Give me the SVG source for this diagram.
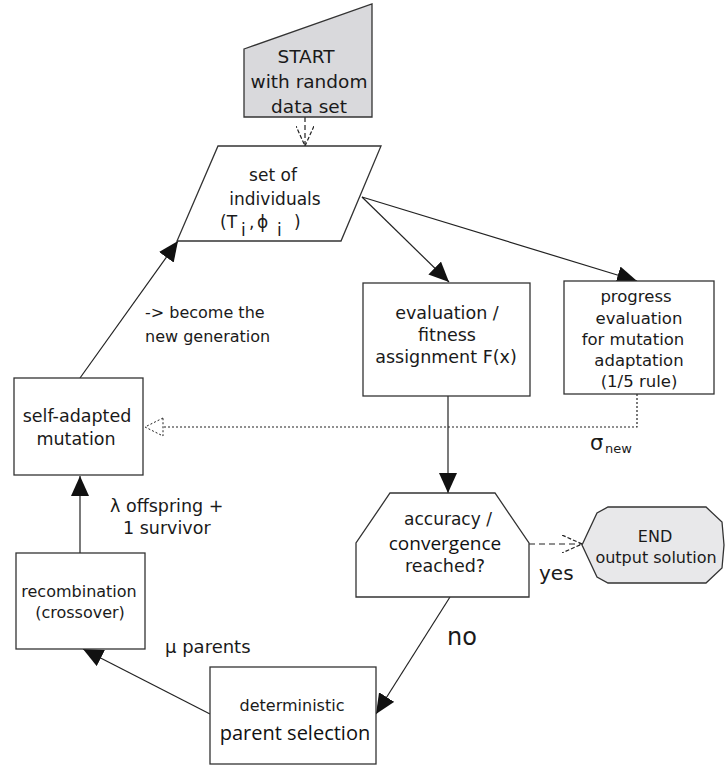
<svg xmlns="http://www.w3.org/2000/svg" width="726" height="765" viewBox="0 0 726 765">
<style>
.box{fill:#fff;stroke:#333;stroke-width:1.3}
.t{font-family:"DejaVu Sans",sans-serif;fill:#1a1a1a;text-anchor:middle}
.l{font-family:"DejaVu Sans",sans-serif;fill:#1a1a1a}
.o{font-family:"Open Sans","Liberation Sans",sans-serif;fill:#111;text-anchor:middle}
.c{fill:none;stroke:#222;stroke-width:1.2}
</style>
<defs>
<marker id="fa" viewBox="0 0 20 18" refX="20" refY="9" markerWidth="20" markerHeight="18" markerUnits="userSpaceOnUse" orient="auto">
<path d="M0,0 L20,9 L0,18 z" fill="#111"/>
</marker>
<marker id="oa" viewBox="0 0 20 18" refX="20" refY="9" markerWidth="20" markerHeight="18" markerUnits="userSpaceOnUse" orient="auto">
<path d="M0,0 L20,9 L0,18" fill="none" stroke="#222" stroke-width="1.2" stroke-dasharray="4,2"/>
</marker>
</defs>
<g id="connectors">
<line class="c" x1="305" y1="117" x2="305" y2="146" stroke-dasharray="5,3" marker-end="url(#oa)"/>
<line class="c" x1="362" y1="197" x2="449" y2="282" marker-end="url(#fa)"/>
<line class="c" x1="362" y1="197" x2="637" y2="281" marker-end="url(#fa)"/>
<line class="c" x1="448" y1="396" x2="448" y2="493" marker-end="url(#fa)"/>
<line class="c" x1="529" y1="544" x2="582" y2="544" stroke-dasharray="6,4" marker-end="url(#oa)"/>
<line class="c" x1="450" y1="597" x2="376" y2="714" marker-end="url(#fa)"/>
<line class="c" x1="210" y1="714" x2="83" y2="649" marker-end="url(#fa)"/>
<line class="c" x1="80" y1="553" x2="80" y2="476" marker-end="url(#fa)"/>
<line class="c" x1="80" y1="378" x2="178" y2="241" marker-end="url(#fa)"/>
<polyline class="c" points="637,394 637,427 163,427" stroke-dasharray="2,2"/>
<path d="M163,418 L145,427 L163,436 z" fill="#fff" stroke="#222" stroke-width="1" stroke-dasharray="2,2"/>
</g>
<g id="start">
<path d="M244,49 L372,4 L372,117 L244,117 z" fill="#d9d9dc" stroke="#333" stroke-width="1.3"/>
<text class="t" x="306" y="63" font-size="18.5">START</text>
<text class="t" x="309" y="88" font-size="18.5">with random</text>
<text class="t" x="309" y="113" font-size="18.5">data set</text>
</g>
<g id="individuals">
<path d="M218,146 L381,146 L341,241 L177,241 z" class="box"/>
<text class="t" x="273" y="181" font-size="17">set of</text>
<text class="t" x="275" y="205" font-size="17">individuals</text>
<text class="l" y="228" font-size="17"><tspan x="220">(T</tspan><tspan x="241" y="236">i</tspan><tspan x="249" y="228">,</tspan><tspan x="257">ϕ</tspan><tspan x="277" y="236">i</tspan><tspan x="294" y="228">)</tspan></text>
</g>
<g id="evaluation">
<rect x="363" y="283" width="167" height="113" class="box"/>
<text class="t" x="447" y="319" font-size="17.5">evaluation /</text>
<text class="t" x="447" y="341" font-size="17.5">fitness</text>
<text class="t" x="446" y="363" font-size="17.5">assignment F(x)</text>
</g>
<g id="progress">
<rect x="564" y="281" width="150" height="113" class="box"/>
<text class="t" x="636" y="302" font-size="16.5">progress</text>
<text class="t" x="639" y="324" font-size="16.5">evaluation</text>
<text class="t" x="633" y="345" font-size="16.5">for mutation</text>
<text class="t" x="639" y="366" font-size="16.5">adaptation</text>
<text class="t" x="639" y="387" font-size="16.5">(1/5 rule)</text>
</g>
<g id="mutation">
<rect x="14" y="378" width="129" height="97" class="box"/>
<text class="t" x="77" y="422" font-size="17.5">self-adapted</text>
<text class="t" x="76" y="445" font-size="17.5">mutation</text>
</g>
<g id="recombination">
<rect x="16" y="553" width="129" height="96" class="box"/>
<text class="t" x="79" y="597" font-size="16">recombination</text>
<text class="t" x="80" y="618" font-size="16">(crossover)</text>
</g>
<g id="selection">
<rect x="210" y="667" width="166" height="97" class="box"/>
<text class="t" x="292" y="711" font-size="16">deterministic</text>
<text class="o" x="295" y="740" font-size="20">parent selection</text>
</g>
<g id="decision">
<path d="M390,493 L495,493 L529,543 L529,597 L356,597 L356,543 z" class="box"/>
<text class="t" x="448" y="525" font-size="17">accuracy /</text>
<text class="o" x="445" y="550" font-size="19">convergence</text>
<text class="t" x="445" y="572" font-size="17.5">reached?</text>
</g>
<g id="end">
<path d="M582,545 L597,513 L608,507 L706,507 L722,522 L724,545 L722,568 L706,583 L608,583 L597,577 z" fill="#e8e8ea" stroke="#333" stroke-width="1.3"/>
<text class="t" x="655" y="542" font-size="16">END</text>
<text class="t" x="656" y="563" font-size="16">output solution</text>
</g>
<g id="labels">
<text class="l" x="145" y="318" font-size="16">-&gt; become the</text>
<text class="l" x="145" y="342" font-size="16">new generation</text>
<text class="l" x="110" y="512" font-size="17.5">λ offspring +</text>
<text class="l" x="123" y="534" font-size="17.5">1 survivor</text>
<text class="l" x="165" y="653" font-size="18">μ parents</text>
<text class="l" x="539" y="580" font-size="20">yes</text>
<text class="l" x="447" y="645" font-size="24">no</text>
<text class="l" x="590" y="450" font-size="21">σ<tspan x="605" y="453" font-size="13">new</tspan></text>
</g>
</svg>
